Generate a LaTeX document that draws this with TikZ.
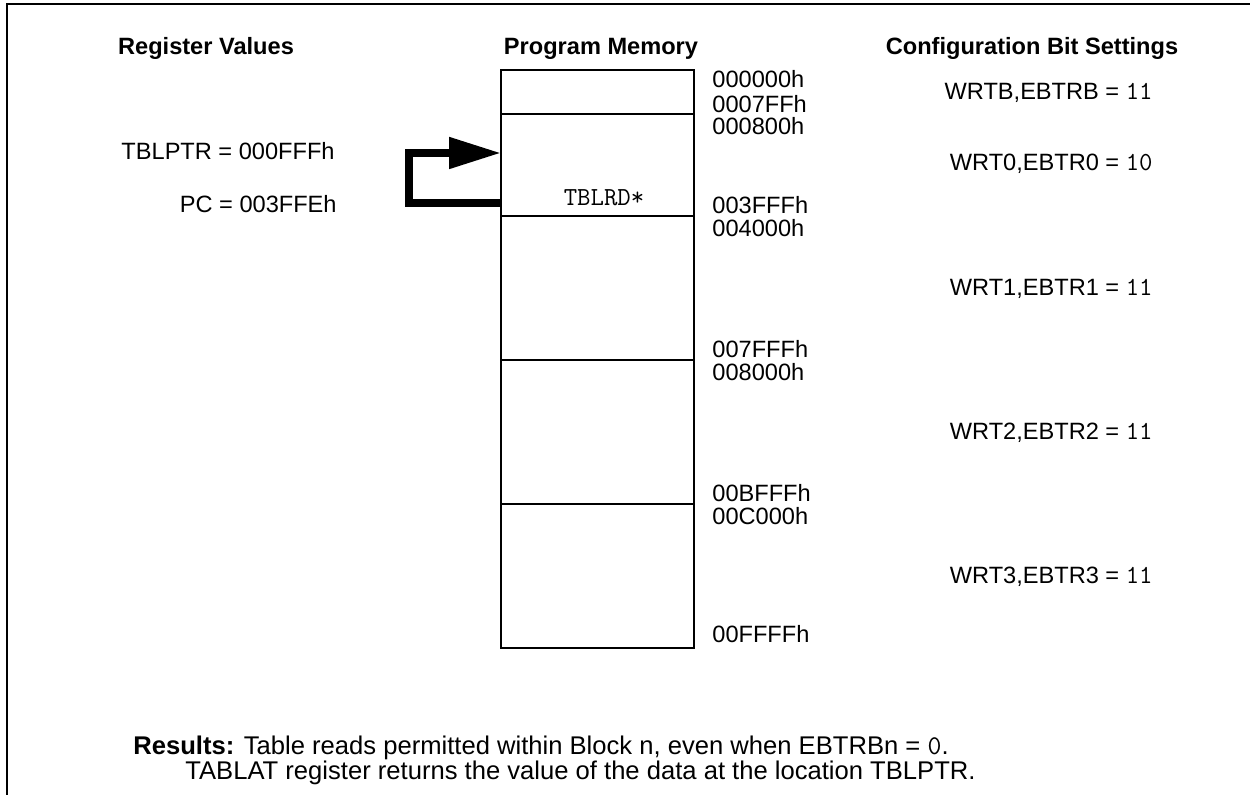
\documentclass[tikz,border=0pt]{standalone}
\usepackage{fontspec}
\setmainfont{Liberation Sans}
\usetikzlibrary{arrows.meta}
\newcommand\mtt[1]{{\fontsize{13}{14}\selectfont\ttfamily #1}}
\newcommand\mttb[1]{{\fontsize{13.5}{15}\selectfont\ttfamily #1}}
\begin{document}
\begin{tikzpicture}[x=0.5pt,y=-0.5pt,
  txt/.style={inner sep=0pt, font=\fontsize{11.8}{14}\selectfont},
  btxt/.style={inner sep=0pt, font=\fontsize{12.8}{15}\selectfont},
  hd/.style={inner sep=0pt, font=\fontsize{11.8}{14}\selectfont\bfseries},
  addr/.style={txt, anchor=base west},
  cfg/.style={txt, anchor=base east},
  memline/.style={line width=1.1pt},
  frame/.style={line width=1pt},
  ptr/.style={line width=4pt, line join=miter, -{Triangle[length=26pt,width=15pt]}}]
\useasboundingbox (0,0) rectangle (1250,795);
% frame
\draw[frame] (7,795) -- (7,4) -- (1250,4);
% headings
\node[hd, anchor=base] (h1) at (206,55) {Register Values};
\node[hd, anchor=base] (h2) at (601,55) {Program Memory};
\node[hd, anchor=base] (h3) at (1032,55) {Configuration Bit Settings};
% register values
\node[txt, anchor=base east] (tblptr) at (335,160) {TBLPTR = 000FFFh};
\node[txt, anchor=base east] (pcv) at (337,213) {PC = 003FFEh};
% program memory
\draw[memline] (501,70) rectangle (694,648);
\foreach \yy in {114,216,360,504} \draw[memline] (501,\yy) -- (694,\yy);
\node[inner sep=0pt, anchor=base, font=\fontsize{13}{14}\selectfont\ttfamily] (rd) at (604,206) {TBLRD*};
\coordinate (pc) at (501,203);
\coordinate (tp) at (501,153);
\draw[ptr] (pc) -- (409,203) |- (tp);
% addresses
\node[addr] (a1) at (712,88) {000000h};
\node[addr] (a2) at (712,113) {0007FFh};
\node[addr] (a3) at (712,135) {000800h};
\node[addr] (a4) at (712,214) {003FFFh};
\node[addr] (a5) at (712,237) {004000h};
\node[addr] (a6) at (712,358) {007FFFh};
\node[addr] (a7) at (712,381) {008000h};
\node[addr] (a8) at (712,502) {00BFFFh};
\node[addr] (a9) at (712,525) {00C000h};
\node[addr] (a10) at (712,643) {00FFFFh};
% configuration bits
\node[cfg] (c1) at (1153,100) {WRTB,EBTRB = \mtt{11}};
\node[cfg] (c2) at (1153,171) {WRT0,EBTR0 = \mtt{10}};
\node[cfg] (c3) at (1153,296) {WRT1,EBTR1 = \mtt{11}};
\node[cfg] (c4) at (1153,440) {WRT2,EBTR2 = \mtt{11}};
\node[cfg] (c5) at (1153,584) {WRT3,EBTR3 = \mtt{11}};
% results
\node[btxt, anchor=base west] (r1) at (133,755) {\textbf{Results:} Table reads permitted within Block n, even when EBTRBn = \mttb{0}.};
\node[btxt, anchor=base west] (r2) at (185,780) {TABLAT register returns the value of the data at the location TBLPTR.};
\end{tikzpicture}
\end{document}
